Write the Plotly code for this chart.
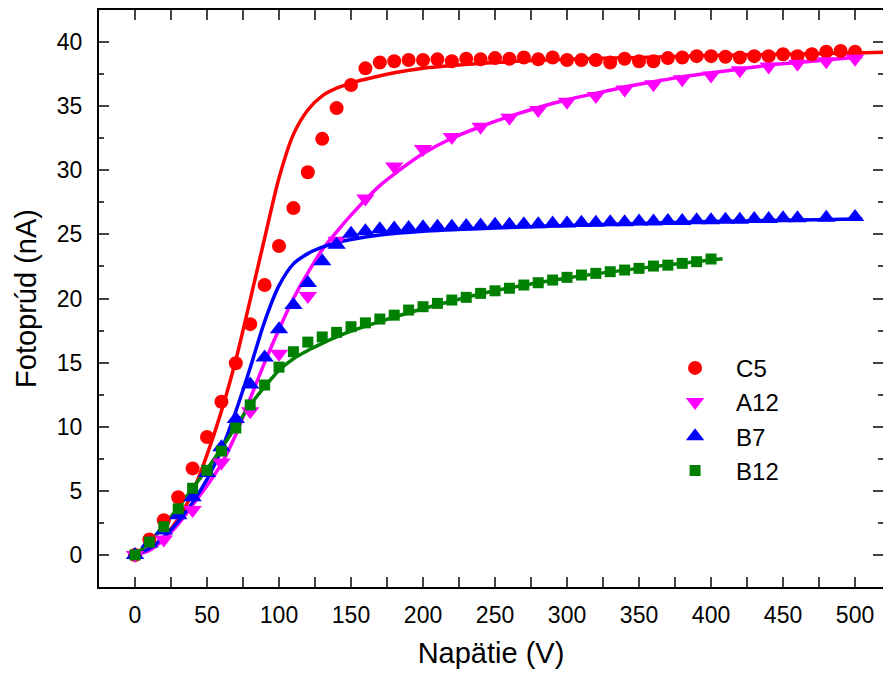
import plotly.graph_objects as go

# ---------------- data ----------------
c5_v = list(range(0, 501, 10))
c5_i = [0.0, 1.2, 2.7, 4.5, 6.75, 9.2, 11.95, 14.95, 18.0, 21.05,
        24.1, 27.05, 29.85, 32.45, 34.85, 36.65, 37.95, 38.4, 38.5, 38.6,
        38.6, 38.65, 38.5, 38.7, 38.65, 38.75, 38.7, 38.8, 38.65, 38.8,
        38.6, 38.6, 38.6, 38.4, 38.7, 38.5, 38.5, 38.75, 38.8, 38.9,
        38.9, 38.85, 38.8, 38.9, 38.9, 39.05, 38.9, 39.05, 39.25, 39.3,
        39.25]

a12_v = list(range(0, 501, 20))
a12_i = [0.0, 1.2, 3.5, 7.2, 11.2, 15.7, 20.2, 24.5, 27.8, 30.3,
         31.65, 32.6, 33.4, 34.1, 34.7, 35.35, 35.8, 36.3, 36.7, 37.1,
         37.4, 37.8, 38.1, 38.3, 38.5, 38.7]

b7_v = list(range(0, 461, 10)) + [480, 500]
b7_i = [0.0, 0.9, 1.9, 3.1, 4.5, 6.4, 8.4, 10.6, 13.3, 15.4,
        17.6, 19.5, 21.2, 22.9, 24.2, 25.05, 25.25, 25.4, 25.45, 25.5,
        25.55, 25.6, 25.6, 25.65, 25.7, 25.75, 25.75, 25.8, 25.8, 25.85,
        25.85, 25.9, 25.9, 25.95, 25.95, 26.0, 26.0, 26.05, 26.05, 26.1,
        26.1, 26.15, 26.15, 26.2, 26.2, 26.25, 26.25, 26.3, 26.35]

b12_v = list(range(0, 401, 10))
b12_i = [0.0, 1.0, 2.2, 3.6, 5.2, 6.6, 8.1, 9.9, 11.7, 13.25,
         14.65, 15.85, 16.6, 17.0, 17.36, 17.8, 18.1, 18.4, 18.7, 19.1,
         19.36, 19.62, 19.88, 20.09, 20.4, 20.6, 20.8, 21.05, 21.23, 21.44,
         21.65, 21.83, 21.96, 22.09, 22.22, 22.35, 22.53, 22.6, 22.74, 22.87,
         23.08]

# fitted curves
c5_fit_v = [0, 10, 20, 30, 40, 50, 60, 70, 80, 90, 100, 110, 120, 130, 140, 150,
            160, 180, 200, 250, 300, 350, 400, 450, 500, 520]
c5_fit_i = [0.0, 0.5, 1.4, 2.8, 4.9, 7.8, 11.2, 15.2, 19.9, 24.7, 29.4, 32.8, 34.7,
            35.8, 36.4, 36.8, 37.1, 37.6, 37.95, 38.4, 38.65, 38.8, 38.95, 39.05,
            39.15, 39.2]

a12_fit_v = [0, 10, 20, 30, 40, 50, 60, 70, 80, 90, 100, 110, 120, 130, 140, 150,
             160, 170, 180, 200, 220, 240, 260, 280, 300, 320, 340, 360, 380, 400,
             420, 440, 460, 480, 500, 505]
a12_fit_i = [0.0, 0.35, 1.2, 2.4, 3.9, 5.4, 7.1, 9.4, 12.2, 15.0, 17.6, 20.0, 22.0,
             23.8, 25.2, 26.5, 27.7, 28.8, 29.7, 31.3, 32.5, 33.4, 34.2, 34.9,
             35.5, 36.0, 36.5, 36.9, 37.3, 37.6, 37.9, 38.2, 38.4, 38.6, 38.8, 38.85]

b7_fit_v = [0, 10, 20, 30, 40, 50, 60, 70, 80, 90, 100, 110, 120, 130, 140, 150,
            170, 200, 250, 300, 350, 400, 450, 500, 505]
b7_fit_i = [0.0, 0.5, 1.4, 2.6, 4.1, 5.9, 8.2, 11.2, 14.6, 18.2, 21.0, 22.7, 23.5,
            24.0, 24.35, 24.6, 24.95, 25.25, 25.5, 25.7, 25.85, 26.0, 26.1, 26.2, 26.2]

b12_fit_v = [0, 10, 20, 30, 40, 50, 60, 70, 80, 90, 100, 110, 120, 130, 140, 150,
             170, 200, 250, 300, 350, 400, 408]
b12_fit_i = [0.0, 1.0, 2.3, 3.7, 5.2, 6.7, 8.3, 10.0, 11.7, 13.1, 14.4, 15.3, 15.95,
             16.5, 17.0, 17.45, 18.2, 19.2, 20.6, 21.6, 22.35, 23.0, 23.1]

names = ["C5", "A12", "B7", "B12"]
colors = ["#FF0000", "#FF00FF", "#0000FF", "#008000"]
symbols = ["circle", "triangle-down", "triangle-up", "square"]
msizes = [14, 16, 16, 11]

x_ticks = list(range(0, 501, 50))
y_ticks = list(range(0, 41, 5))

# ---------------- figure ----------------
fig = go.Figure()
data = [(c5_v, c5_i), (a12_v, a12_i), (b7_v, b7_i), (b12_v, b12_i)]
fits = [(c5_fit_v, c5_fit_i), (a12_fit_v, a12_fit_i), (b7_fit_v, b7_fit_i),
        (b12_fit_v, b12_fit_i)]

for (fv, fi), col in zip(fits, colors):
    fig.add_trace(go.Scatter(x=fv, y=fi, mode="lines", showlegend=False,
                             line=dict(color=col, width=3.5, shape="spline",
                                       smoothing=0.8),
                             hoverinfo="skip"))

for (v, i), nm, col, sym, ms in zip(data, names, colors, symbols, msizes):
    fig.add_trace(go.Scatter(x=v, y=i, mode="markers", name=nm,
                             marker=dict(color=col, symbol=sym, size=ms,
                                         line=dict(width=0))))

# dummy trace for right-side tick axis
fig.add_trace(go.Scatter(x=[None], y=[None], yaxis="y2", showlegend=False))

font_family = "Liberation Sans, Arial, sans-serif"

fig.update_layout(
    width=883, height=677,
    margin=dict(l=99, r=0, t=10, b=90),
    paper_bgcolor="white", plot_bgcolor="white",
    font=dict(family=font_family, color="black"),
    showlegend=True,
    legend=dict(x=0.708, y=0.418, xanchor="left", yanchor="top",
                font=dict(size=24, family=font_family),
                bgcolor="rgba(0,0,0,0)", itemwidth=72),
    xaxis=dict(range=[-25, 519.4], tickvals=x_ticks, ticks="inside", ticklen=10,
               tickwidth=2, showline=True, linewidth=2, linecolor="black",
               mirror="allticks", showgrid=False, zeroline=False,
               tickfont=dict(size=23), ticklabelstandoff=6,
               minor=dict(dtick=25, tick0=0, ticks="inside", ticklen=5, tickwidth=2,
                          showgrid=False),
               title=dict(text="Napätie (V)", font=dict(size=29), standoff=16)),
    yaxis=dict(range=[-2.5, 42.5], tickvals=y_ticks, ticks="inside", ticklen=10,
               tickwidth=2, showline=True, linewidth=2, linecolor="black",
               mirror=False, showgrid=False, zeroline=False,
               tickfont=dict(size=23), ticklabelstandoff=10,
               minor=dict(dtick=2.5, tick0=0, ticks="inside", ticklen=5, tickwidth=2,
                          showgrid=False),
               title=dict(text="Fotoprúd (nA)", font=dict(size=29), standoff=12)),
    yaxis2=dict(range=[-2.5, 42.5], overlaying="y", side="right", tickvals=y_ticks,
                ticks="inside", ticklen=10, tickwidth=2, showline=False,
                showticklabels=False, showgrid=False, zeroline=False,
                minor=dict(dtick=2.5, tick0=0, ticks="inside", ticklen=5,
                           tickwidth=2, showgrid=False)),
)

fig.write_html("out.html")
